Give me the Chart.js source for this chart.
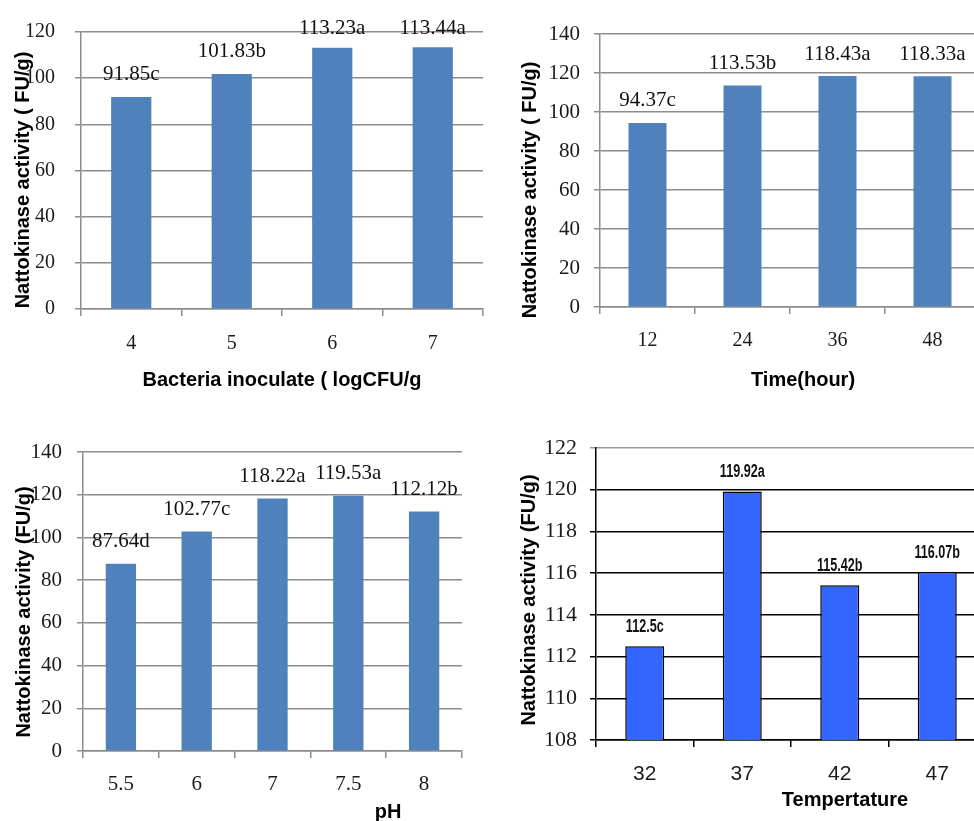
<!DOCTYPE html>
<html>
<head>
<meta charset="utf-8">
<script src="https://cdn.jsdelivr.net/npm/chart.js@4.4.1/dist/chart.umd.min.js"></script>
<style>
    html, body { margin: 0; padding: 0; background: #fff; overflow: hidden; width: 974px; height: 821px; }
    .panel { position: absolute; }
</style>
</head>
<body>
<div class="panel" style="left:0;top:0"><canvas id="inoc" width="487" height="410" style="width:487px;height:410px"></canvas></div>
<div class="panel" style="left:487px;top:0"><canvas id="time" width="500" height="410" style="width:500px;height:410px"></canvas></div>
<div class="panel" style="left:0;top:410px"><canvas id="ph" width="487" height="411" style="width:487px;height:411px"></canvas></div>
<div class="panel" style="left:487px;top:410px"><canvas id="temp" width="500" height="411" style="width:500px;height:411px"></canvas></div>
<script>
// Bacteria inoculate
const inocCats = ['4', '5', '6', '7'];
const inocVals = [91.85, 101.83, 113.23, 113.44];
const inocLetters = ['c', 'b', 'a', 'a'];

// Time
const timeCats = ['12', '24', '36', '48'];
const timeVals = [94.37, 113.53, 118.43, 118.33];
const timeLetters = ['c', 'b', 'a', 'a'];

// pH
const phCats = ['5.5', '6', '7', '7.5', '8'];
const phVals = [87.64, 102.77, 118.22, 119.53, 112.12];
const phLetters = ['d', 'c', 'a', 'a', 'b'];

// Temperature
const tempCats = ['32', '37', '42', '47'];
const tempVals = [112.5, 119.92, 115.42, 116.07];
const tempLetters = ['c', 'a', 'b', 'b'];

const SERIF = '"Liberation Serif", "Times New Roman", serif';
const SANS = '"Liberation Sans", Arial, sans-serif';

// data labels above bars + axis titles
const annotate = {
    id: 'annotate',
    afterDatasetsDraw(chart, args, o) {
        const ctx = chart.ctx;
        const sq = o.labelSqueeze || 1;
        chart.getDatasetMeta(0).data.forEach((bar, i) => {
            let y = bar.y - o.labelGap;
            if (o.labelMinY != null) y = Math.max(y, o.labelMinY);
            ctx.save();
            ctx.font = o.labelFont;
            ctx.fillStyle = '#111';
            ctx.textAlign = 'center';
            ctx.textBaseline = 'middle';
            ctx.translate(bar.x, y);
            ctx.scale(sq, 1);
            ctx.fillText(o.labels[i], 0, 0);
            ctx.restore();
        });
    },
    afterDraw(chart, args, o) {
        const ctx = chart.ctx;
        ctx.save();
        ctx.fillStyle = '#000';
        ctx.textAlign = 'center';
        ctx.textBaseline = 'middle';
        ctx.font = 'bold 20px ' + SANS;
        ctx.fillText(o.xTitle, o.xTitlePos[0], o.xTitlePos[1]);
        ctx.translate(o.yTitlePos[0], o.yTitlePos[1]);
        ctx.rotate(-Math.PI / 2);
        ctx.fillText(o.yTitle, 0, 0);
        ctx.restore();
    }
};

function makeChart(id, c) {
    return new Chart(document.getElementById(id), {
        type: 'bar',
        data: {
            labels: c.cats,
            datasets: [{
                data: c.vals,
                backgroundColor: c.barColor,
                borderColor: c.barBorder || c.barColor,
                borderWidth: c.barBorder ? 1.5 : 0,
                barPercentage: 0.4,
                categoryPercentage: 1
            }]
        },
        options: {
            responsive: false,
            animation: false,
            layout: { padding: c.padding },
            plugins: {
                legend: { display: false },
                tooltip: { enabled: false },
                annotate: {
                    labels: c.vals.map((v, i) => v + c.letters[i]),
                    labelFont: c.labelFont,
                    labelGap: c.labelGap,
                    labelMinY: c.labelMinY,
                    labelSqueeze: c.labelSqueeze,
                    xTitle: c.xTitle, xTitlePos: c.xTitlePos,
                    yTitle: c.yTitle, yTitlePos: c.yTitlePos
                }
            },
            scales: {
                x: {
                    afterFit: s => { s.height = c.xHeight; },
                    grid: { drawOnChartArea: false, drawTicks: true, tickLength: 7, offset: true, color: c.axisColor, lineWidth: 1.5 },
                    border: { color: c.axisColor, width: 1.5 },
                    ticks: { color: '#1a1a1a', font: c.xTickFont, padding: c.xTickPad, maxRotation: 0 }
                },
                y: {
                    min: c.yMin, max: c.yMax,
                    afterFit: s => { s.width = c.yWidth; },
                    grid: { color: c.gridColor, lineWidth: 1.5, tickLength: 6 },
                    border: { color: c.axisColor, width: 1.5 },
                    ticks: { stepSize: c.yStep, color: '#1a1a1a', font: c.yTickFont, padding: c.yTickPad }
                }
            }
        },
        plugins: [annotate]
    });
}

const GREY = '#8c8c8c';

makeChart('inoc', {
    cats: inocCats, vals: inocVals, letters: inocLetters,
    barColor: '#4f81bd',
    padding: { top: 24, right: 4, left: 0, bottom: 0 },
    yWidth: 81, xHeight: 101,
    yMin: 0, yMax: 120, yStep: 20,
    gridColor: GREY, axisColor: GREY,
    xTickFont: { family: SERIF, size: 20 }, xTickPad: 16,
    yTickFont: { family: SERIF, size: 20 }, yTickPad: 20,
    labelFont: '21px ' + SERIF, labelGap: 22, labelMinY: 28,
    xTitle: 'Bacteria inoculate ( logCFU/g', xTitlePos: [282, 380],
    yTitle: 'Nattokinase activity ( FU/g)', yTitlePos: [23, 180]
});

makeChart('time', {
    cats: timeCats, vals: timeVals, letters: timeLetters,
    barColor: '#4f81bd',
    padding: { top: 34, right: 7, left: 0, bottom: 0 },
    yWidth: 113, xHeight: 103,
    yMin: 0, yMax: 140, yStep: 20,
    gridColor: GREY, axisColor: GREY,
    xTickFont: { family: SERIF, size: 20 }, xTickPad: 15,
    yTickFont: { family: SERIF, size: 21 }, yTickPad: 14,
    labelFont: '21px ' + SERIF, labelGap: 22, labelMinY: null,
    xTitle: 'Time(hour)', xTitlePos: [316, 380],
    yTitle: 'Nattokinase activity ( FU/g)', yTitlePos: [43, 190]
});

makeChart('ph', {
    cats: phCats, vals: phVals, letters: phLetters,
    barColor: '#4f81bd',
    padding: { top: 42, right: 25, left: 0, bottom: 0 },
    yWidth: 83, xHeight: 70,
    yMin: 0, yMax: 140, yStep: 20,
    gridColor: GREY, axisColor: GREY,
    xTickFont: { family: SERIF, size: 21 }, xTickPad: 14,
    yTickFont: { family: SERIF, size: 21 }, yTickPad: 15,
    labelFont: '21px ' + SERIF, labelGap: 22, labelMinY: null,
    xTitle: 'pH', xTitlePos: [388, 402],
    yTitle: 'Nattokinase activity (FU/g)', yTitlePos: [24, 202]
});

makeChart('temp', {
    cats: tempCats, vals: tempVals, letters: tempLetters,
    barColor: '#3366ff', barBorder: '#000',
    padding: { top: 38, right: 1, left: 0, bottom: 0 },
    yWidth: 109, xHeight: 81,
    yMin: 108, yMax: 122, yStep: 2,
    gridColor: ctx => ctx.tick && ctx.tick.value === 122 ? '#999' : '#000',
    axisColor: '#000',
    xTickFont: { family: SANS, size: 21 }, xTickPad: 15,
    yTickFont: { family: SERIF, size: 22 }, yTickPad: 13,
    labelFont: 'bold 18px ' + SANS, labelGap: 19, labelMinY: null, labelSqueeze: 0.7,
    xTitle: 'Tempertature', xTitlePos: [358, 390],
    yTitle: 'Nattokinase activity (FU/g)', yTitlePos: [42, 190]
});
</script>
</body>
</html>
